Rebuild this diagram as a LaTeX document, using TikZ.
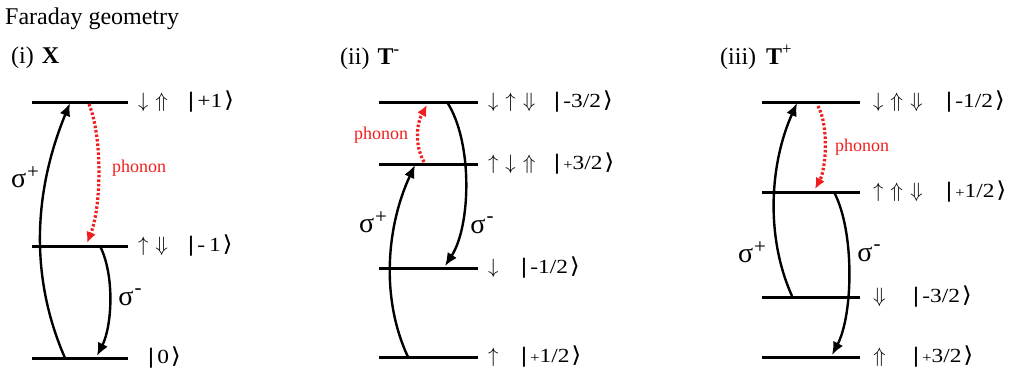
\documentclass[tikz,border=0pt]{standalone}
\usepackage{fontspec}
\setmainfont{Liberation Serif}
\newfontfamily\arrfont{DejaVu Sans}
\usetikzlibrary{arrows.meta}
\definecolor{phred}{RGB}{240,30,30}
\tikzset{
  level/.style={line width=3pt},
  trans/.style={line width=2.4pt,-{Latex[length=13pt,width=11pt]}},
  phon/.style={draw=phred,line width=3.2pt,dash pattern=on 2.5pt off 2pt,-{Latex[length=11pt,width=10pt,fill=phred]}},
  title/.style={font=\fontsize{24}{28}\selectfont,anchor=base west,inner sep=0},
  sig/.style={font=\fontsize{28}{32}\selectfont,inner sep=0},
  phlbl/.style={font=\fontsize{18}{22}\selectfont,text=phred,inner sep=0},
  spin/.style={font=\fontsize{21}{24}\selectfont,anchor=west,inner sep=0},
  ket/.style={font=\fontsize{20}{24}\selectfont,anchor=west,inner sep=0},
}
\newcommand{\kt}[1]{\scalebox{1.17}[1]{{\arrfont\fontsize{20}{24}\selectfont|}\hspace{2pt}#1\hspace{1.5pt}{\arrfont\fontsize{22}{24}\selectfont⟩}}}
\newcommand{\smsign}[1]{{\fontsize{14}{16}\selectfont #1}}
\newcommand{\sgp}{σ\hspace{1pt}\raisebox{9pt}{\fontsize{21}{24}\selectfont +}}
\newcommand{\sgm}{σ\hspace{1pt}\raisebox{11pt}{\fontsize{21}{24}\selectfont -}}
\newcommand{\ar}{\mkern6mu}
\begin{document}
\begin{tikzpicture}[x=1pt,y=-1pt]
\useasboundingbox (0,0) rectangle (1009,375);
% titles
\node[title] (t0) at (5,24) {Faraday geometry};
\node[title] (t1) at (11,63) {(i)\hspace{8pt}\textbf{X}};
\node[title] (t2) at (340,64) {(ii)\hspace{8pt}\textbf{T}\textsuperscript{\textbf{-}}};
\node[title] (t3) at (720,64) {(iii)\hspace{10pt}\textbf{T}\textsuperscript{+}};

% ---------- panel (i)
\foreach \n/\y in {1/102,2/246,3/358}{
  \coordinate (aL\n) at (32,\y); \coordinate (aR\n) at (128,\y);
  \draw[level] (aL\n) -- (aR\n);
}
\coordinate (a+s) at (65,358); \coordinate (a+e) at (70,103);
\coordinate (a-s) at (100,246); \coordinate (a-e) at (97,356);
\coordinate (aps) at (89,104); \coordinate (ape) at (87,243);
\draw[trans] (a+s) .. controls +(-35,-80) and +(-37,90) .. (a+e);
\draw[trans] (a-s) .. controls +(15,30) and +(15,-30) .. (a-e);
\draw[phon] (aps) .. controls +(14,35) and +(14,-35) .. (ape);
\node[sig] (asp) at (25,177) {\sgp};
\node[sig] (asm) at (130,297) {\sgm};
\node[phlbl] (aph) at (139,168) {phonon};
\node[spin] (as1) at (138,102) {$\downarrow\ar\Uparrow$};
\node[spin] (as2) at (138,246) {$\uparrow\ar\Downarrow$};
\node[ket] (ak1) at (187,102) {\kt{+1}};
\node[ket] (ak2) at (187,246) {\kt{-\,1}};
\node[ket] (ak3) at (147,358) {\kt{0}};

% ---------- panel (ii)
\foreach \n/\y in {1/102,2/164,3/268,4/357}{
  \coordinate (bL\n) at (379,\y); \coordinate (bR\n) at (478,\y);
  \draw[level] (bL\n) -- (bR\n);
}
\coordinate (b+s) at (408,357); \coordinate (b+e) at (415,165);
\coordinate (b-s) at (447,102); \coordinate (b-e) at (445,266);
\coordinate (bps) at (424,162); \coordinate (bpe) at (427,105);
\draw[trans] (b+s) .. controls +(-28,-60) and +(-28,60) .. (b+e);
\draw[trans] (b-s) .. controls +(26,40) and +(26,-40) .. (b-e);
\draw[phon] (bps) .. controls +(-10,-18) and +(-10,18) .. (bpe);
\node[sig] (bsp) at (373,222) {\sgp};
\node[sig] (bsm) at (482,225) {\sgm};
\node[phlbl] (bph) at (381,135) {phonon};
\node[spin] (bs1) at (488,102) {$\downarrow\ar\uparrow\ar\Downarrow$};
\node[spin] (bs2) at (488,164) {$\uparrow\ar\downarrow\ar\Uparrow$};
\node[spin] (bs3) at (488,268) {$\downarrow$};
\node[spin] (bs4) at (488,357) {$\uparrow$};
\node[ket] (bk1) at (553,102) {\kt{-3/2}};
\node[ket] (bk2) at (553,164) {\kt{\smsign{+}3/2}};
\node[ket] (bk3) at (520,268) {\kt{-1/2}};
\node[ket] (bk4) at (520,357) {\kt{\smsign{+}1/2}};

% ---------- panel (iii)
\foreach \n/\y in {1/102,2/192,3/297,4/357}{
  \coordinate (cL\n) at (762,\y); \coordinate (cR\n) at (860,\y);
  \draw[level] (cL\n) -- (cR\n);
}
\coordinate (c+s) at (792,296); \coordinate (c+e) at (797,103);
\coordinate (c-s) at (834,192); \coordinate (c-e) at (832,355);
\coordinate (cps) at (818,106); \coordinate (cpe) at (815,189);
\draw[trans] (c+s) .. controls +(-27,-60) and +(-27,60) .. (c+e);
\draw[trans] (c-s) .. controls +(21,40) and +(21,-40) .. (c-e);
\draw[phon] (cps) .. controls +(11,20) and +(11,-20) .. (cpe);
\node[sig] (csp) at (752,252) {\sgp};
\node[sig] (csm) at (869,253) {\sgm};
\node[phlbl] (cph) at (862,147) {phonon};
\node[spin] (cs1) at (873,102) {$\downarrow\ar\Uparrow\ar\Downarrow$};
\node[spin] (cs2) at (873,192) {$\uparrow\ar\Uparrow\ar\Downarrow$};
\node[spin] (cs3) at (873,297) {$\Downarrow$};
\node[spin] (cs4) at (873,357) {$\Uparrow$};
\node[ket] (ck1) at (945,102) {\kt{-1/2}};
\node[ket] (ck2) at (945,192) {\kt{\smsign{+}1/2}};
\node[ket] (ck3) at (912,297) {\kt{-3/2}};
\node[ket] (ck4) at (912,357) {\kt{\smsign{+}3/2}};
\end{tikzpicture}
\end{document}
